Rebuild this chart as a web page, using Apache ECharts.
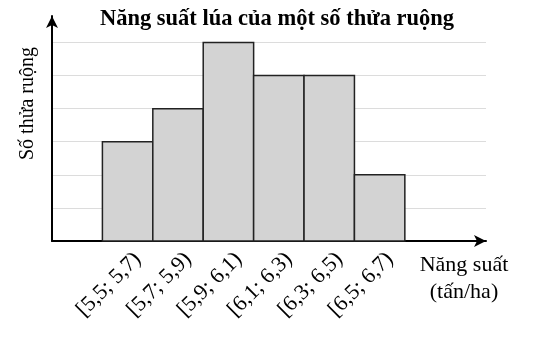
<!DOCTYPE html>
<html>
<head>
<meta charset="utf-8">
<script src="https://cdn.jsdelivr.net/npm/echarts@6/dist/echarts.min.js"></script>
<style>html,body{margin:0;padding:0;background:#fff}#c{width:537px;height:340px}</style>
</head>
<body>
<div id="c"></div>
<script>
var categories = ['[5,5; 5,7)', '[5,7; 5,9)', '[5,9; 6,1)', '[6,1; 6,3)', '[6,3; 6,5)', '[6,5; 6,7)'];
var counts = [3, 4, 6, 5, 5, 2];
var binStart = [1, 2, 3, 4, 5, 6];
var titleText = 'Năng suất lúa của một số thửa ruộng';
var yName = 'Số thửa ruộng';
var xName = 'Năng suất\n(tấn/ha)';

var font = '"Liberation Serif", "Times New Roman", serif';
var chart = echarts.init(document.getElementById('c'));
var data = counts.map(function (v, i) { return [binStart[i], v]; });
chart.setOption({
  animation: false,
  title: [{
    text: titleText, left: 272, textAlign: 'center', top: 3,
    textStyle: { fontFamily: font, fontSize: 22.5, fontWeight: 'bold', color: '#000' }
  }, {
    text: xName, left: 464, textAlign: 'center', top: 252, padding: 0,
    textStyle: { fontFamily: font, fontSize: 22, fontWeight: 'normal', color: '#000', lineHeight: 27 }
  }],
  grid: { left: 52, right: 51, top: 16, bottom: 99, outerBoundsMode: 'none', containLabel: false },
  xAxis: {
    type: 'value', min: 0, max: 8.61, interval: 0.1,
    axisLine: { lineStyle: { color: '#000', width: 2 }, symbol: ['none', 'arrow'], symbolSize: [9, 12] },
    axisTick: { show: false },
    splitLine: { show: false },
    axisLabel: {
      rotate: 45, margin: 15, fontFamily: font, fontSize: 22, color: '#000',
      showMinLabel: false, showMaxLabel: false,
      formatter: function (v) {
        var t = Math.round(v * 10);
        if (t % 10 === 7) {
          var i = (t - 7) / 10 - 1;
          if (i >= 0 && i < categories.length) return categories[i];
        }
        return '';
      }
    }
  },
  yAxis: {
    type: 'value', min: 0, max: 6.8, interval: 1,
    axisLine: { lineStyle: { color: '#000', width: 2 }, symbol: ['none', 'arrow'], symbolSize: [9, 12] },
    axisTick: { show: false },
    axisLabel: { show: false },
    splitLine: { show: true, showMaxLine: false, lineStyle: { color: '#dcdcdc', width: 1 } },
    name: yName, nameLocation: 'middle', nameGap: 14,
    nameTextStyle: { fontFamily: font, fontSize: 20, color: '#000', padding: [0, 0, 0, 50] }
  },
  series: [{
    type: 'custom',
    data: data,
    encode: { x: 0, y: 1 },
    renderItem: function (params, api) {
      var x0 = api.value(0), v = api.value(1);
      var p0 = api.coord([x0, 0]);
      var p1 = api.coord([x0 + 1, v]);
      return {
        type: 'rect',
        shape: { x: p0[0], y: p1[1], width: p1[0] - p0[0], height: p0[1] - p1[1] },
        style: { fill: '#d3d3d3', stroke: '#222', lineWidth: 1.5 }
      };
    }
  }]
});
</script>
</body>
</html>
